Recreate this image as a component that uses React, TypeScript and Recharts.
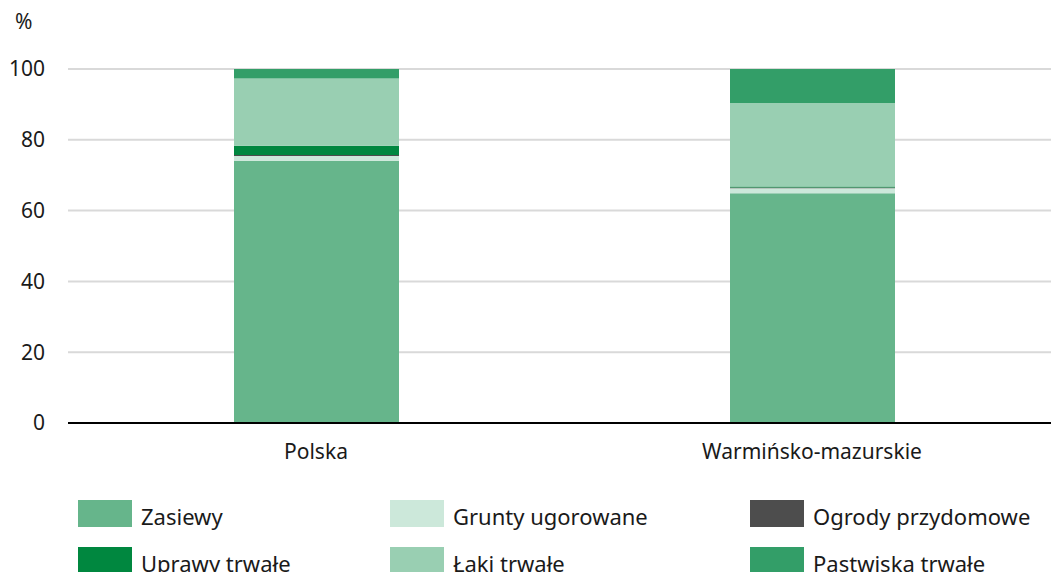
import { BarChart, Bar, XAxis, YAxis, CartesianGrid, ReferenceLine } from 'recharts'

const regions = ['Polska', 'Warmińsko-mazurskie']
const zasiewy = [74.1, 64.9]
const grunty = [1.3, 1.4]
const ogrody = [0.3, 0.2]
const uprawy = [2.6, 0.3]
const laki = [19.0, 23.6]
const pastwiska = [2.7, 9.6]
const yTicks = [0, 20, 40, 60, 80, 100]

const series = [
  { key: 'zasiewy', name: 'Zasiewy', color: '#66b58b', values: zasiewy },
  { key: 'grunty', name: 'Grunty ugorowane', color: '#cce8da', values: grunty },
  { key: 'ogrody', name: 'Ogrody przydomowe', color: '#4d4d4d', values: ogrody },
  { key: 'uprawy', name: 'Uprawy trwałe', color: '#00873f', values: uprawy },
  { key: 'laki', name: 'Łąki trwałe', color: '#99cfb2', values: laki },
  { key: 'pastwiska', name: 'Pastwiska trwałe', color: '#339e68', values: pastwiska },
]

const data = regions.map((name, i) => {
  const row: Record<string, string | number> = { name }
  series.forEach((s) => { row[s.key] = s.values[i] })
  return row
})

const font = '"Noto Sans", sans-serif'
const legendCols = [78, 390, 750]

export default function App() {
  return (
    <div style={{ position: 'absolute', left: 0, top: 0, width: 1051, height: 572, overflow: 'hidden', fontFamily: font, background: '#fff' }}>
      <div style={{ position: 'absolute', left: 15, top: 7, fontSize: 21, color: '#1a1a1a' }}>%</div>
      <BarChart
        width={1060}
        height={572}
        data={data}
        margin={{ top: 69, right: 0, left: 0, bottom: 119 }}
        barSize={165}
      >
        <CartesianGrid vertical={false} stroke="#d9d9d9" strokeWidth={2} />
        <XAxis
          dataKey="name"
          axisLine={false}
          tickLine={false}
          tick={{ fontSize: 21, fill: '#1a1a1a', fontFamily: font }}
          dy={13}
          height={30}
        />
        <YAxis
          domain={[0, 100]}
          ticks={yTicks}
          axisLine={false}
          tickLine={false}
          width={68}
          tickMargin={17}
          tick={{ fontSize: 21, fill: '#1a1a1a', fontFamily: font }}
        />
        {series.map((s) => (
          <Bar key={s.key} dataKey={s.key} name={s.name} stackId="a" fill={s.color} isAnimationActive={false} />
        ))}
        <ReferenceLine y={0} stroke="#000" strokeWidth={2} />
      </BarChart>
      {series.map((s, i) => {
        const col = i % 3
        const row = Math.floor(i / 3)
        return (
          <div
            key={s.key}
            style={{
              position: 'absolute',
              left: legendCols[col],
              top: 498 + row * 47,
              display: 'flex',
              alignItems: 'center',
              fontSize: 22,
              color: '#1a1a1a',
              whiteSpace: 'nowrap',
            }}
          >
            <span style={{ display: 'inline-block', width: 54, height: 27, background: s.color, marginRight: 9 }} />
            <span style={{ position: 'relative', top: 3 }}>{s.name}</span>
          </div>
        )
      })}
    </div>
  )
}
